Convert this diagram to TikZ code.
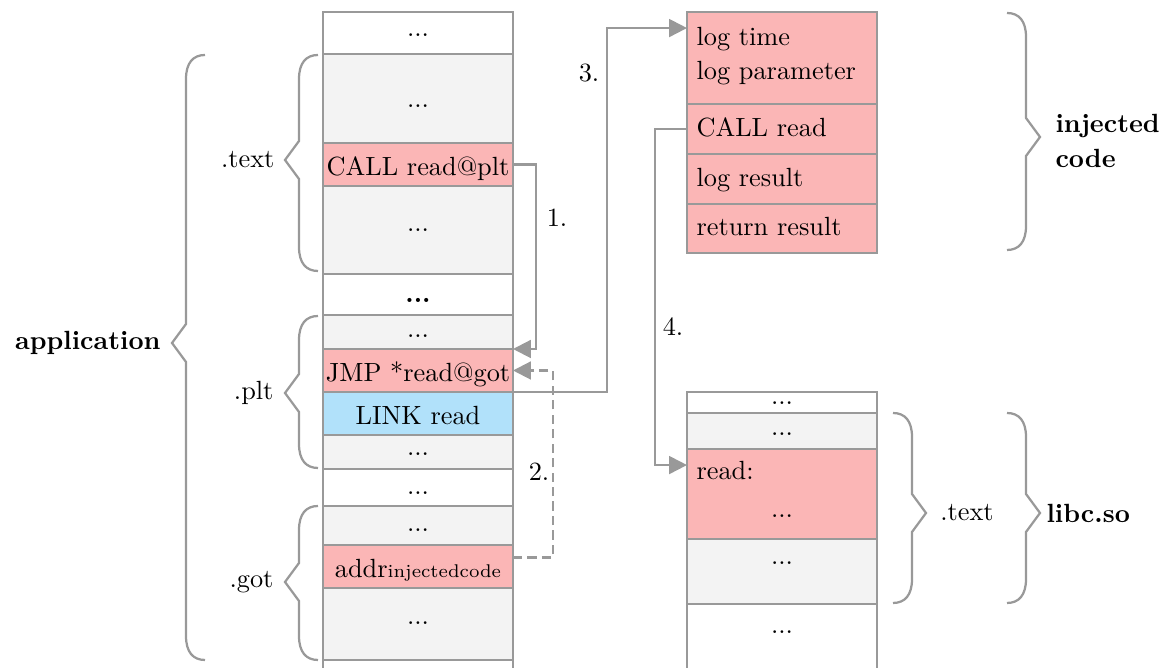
\documentclass[tikz,border=0pt]{standalone}
\usetikzlibrary{arrows.meta,calc}
\definecolor{linegray}{RGB}{153,153,153}
\definecolor{cellpink}{RGB}{251,182,182}
\definecolor{cellgray}{RGB}{243,243,243}
\definecolor{cellblue}{RGB}{177,225,250}
% memory cell: name, x1, y1, x2, y2, style, text
\newcommand\memcell[7]{\node[cellbox,#6,minimum width={(#4-#2)*0.38pt},minimum height={(#5-#3)*0.38pt}] (#1) at ({(#2+#4)/2},{(#3+#5)/2}) {#7};}
% curly brace opening to the right (tip on the left): x of the ends, top y, bottom y, tip y
\newcommand\leftbrc[4]{\draw[brc] (#1,#2) .. controls (#1-12,#2) and (#1-19,#2+8) .. (#1-19,#2+24) -- (#1-19,#4-19) -- (#1-33,#4) -- (#1-19,#4+19) -- (#1-19,#3-24) .. controls (#1-19,#3-8) and (#1-12,#3) .. (#1,#3);}
% curly brace opening to the left (tip on the right)
\newcommand\rightbrc[4]{\draw[brc] (#1,#2) .. controls (#1+12,#2) and (#1+19,#2+8) .. (#1+19,#2+24) -- (#1+19,#4-19) -- (#1+33,#4) -- (#1+19,#4+19) -- (#1+19,#3-24) .. controls (#1+19,#3-8) and (#1+12,#3) .. (#1,#3);}
\begin{document}
\begin{tikzpicture}[x=0.38pt,y=-0.38pt,
  cellbox/.style={draw=linegray,line width=0.75pt,inner sep=0pt,outer sep=0pt},
  plainc/.style={fill=white},
  grayc/.style={fill=cellgray},
  pinkc/.style={fill=cellpink},
  bluec/.style={fill=cellblue},
  txt/.style={text height=8.5pt,text depth=0pt},
  flow/.style={draw=linegray,line width=0.8pt,-{Triangle[length=6.8pt,width=6.8pt]}},
  dashflow/.style={flow,dash pattern=on 3.5pt off 2pt},
  brc/.style={draw=linegray,line width=0.85pt},
  lbl/.style={inner sep=0pt}]
\clip (0,0) rectangle (1173,668);

% ---- application memory column ----
\memcell{c0}{323}{12}{513}{54}{plainc}{}
\memcell{c1}{323}{54}{513}{143}{grayc}{}
\memcell{c2}{323}{143}{513}{186}{pinkc,txt}{CALL read@plt}
\memcell{c3}{323}{186}{513}{274}{grayc}{}
\memcell{c4}{323}{274}{513}{315}{plainc}{}
\memcell{c5}{323}{315}{513}{349}{grayc}{}
\memcell{c6}{323}{349}{513}{392}{pinkc,txt}{JMP *read@got}
\memcell{c7}{323}{392}{513}{435}{bluec,txt}{LINK read}
\memcell{c8}{323}{435}{513}{469}{grayc}{}
\memcell{c9}{323}{469}{513}{506}{plainc}{}
\memcell{c10}{323}{506}{513}{545}{grayc}{}
\memcell{c11}{323}{545}{513}{588}{pinkc,txt}{addr{\scriptsize injectedcode}}
\memcell{c12}{323}{588}{513}{660}{grayc}{}
\memcell{c13}{323}{660}{513}{700}{plainc}{}

\node[lbl] (d0) at (418,35) {...};
\node[lbl] (d1) at (418,106) {...};
\node[lbl] (d3) at (418,230) {...};
\node[lbl] (d4) at (418,300) {\bfseries ...};
\node[lbl] (d5) at (418,336) {...};
\node[lbl] (d8) at (418,454) {...};
\node[lbl] (d9) at (418,493) {...};
\node[lbl] (d10) at (418,530) {...};
\node[lbl] (d12) at (418,623) {...};

% ---- injected code block ----
\memcell{i1}{687}{12}{877}{104}{pinkc}{}
\memcell{i2}{687}{104}{877}{154}{pinkc}{}
\memcell{i3}{687}{154}{877}{204}{pinkc}{}
\memcell{i4}{687}{204}{877}{253}{pinkc}{}
\node[lbl,anchor=base west] (t1a) at (696,45.5) {log time};
\node[lbl,anchor=base west] (t1b) at (696,80) {log parameter};
\node[lbl,anchor=base west] (t2) at (696,137) {CALL read};
\node[lbl,anchor=base west] (t3) at (696,187) {log result};
\node[lbl,anchor=base west] (t4) at (696,236) {return result};

% ---- libc column ----
\memcell{b0}{687}{392}{877}{413}{plainc}{}
\memcell{b1}{687}{413}{877}{449}{grayc}{}
\memcell{b2}{687}{449}{877}{539}{pinkc}{}
\memcell{b3}{687}{539}{877}{604}{grayc}{}
\memcell{b4}{687}{604}{877}{700}{plainc}{}
\node[lbl,anchor=base west] (rdl) at (696,480) {read:};
\node[lbl] (e0) at (782,403) {...};
\node[lbl] (e1) at (782,434) {...};
\node[lbl] (e2) at (782,516) {...};
\node[lbl] (e3) at (782,563) {...};
\node[lbl] (e4) at (782,632) {...};

% ---- control flow ----
\draw[flow] (c2.east) -- ++(23,0) |- (c6.north east);
\node[lbl] (n1) at (557,218) {1.};
\draw[dashflow] ([yshift=3.4pt]c11.east) -- ++(40,0) |- (c6.east);
\node[lbl] (n2) at (539,472) {2.};
\draw[flow] (c6.south east) -- ++(94,0) |- ([yshift=-6.1pt]i1.north west);
\node[lbl] (n3) at (589,73) {3.};
\draw[flow] (i2.west) -- ++(-32,0) |- ([yshift=-6.1pt]b2.north west);
\node[lbl] (n4) at (673,327) {4.};

% ---- braces ----
\leftbrc{318}{55}{271}{160}
\node[lbl,anchor=east] (s1) at (275,160) {.text};
\leftbrc{318}{316}{468}{393}
\node[lbl,anchor=east] (s2) at (274,393) {.plt};
\leftbrc{318}{506}{660}{582}
\node[lbl,anchor=east] (s3) at (274,582) {.got};
\leftbrc{205}{55}{660}{343}
\node[lbl,anchor=east,font=\bfseries] (app) at (161,343) {application};

\rightbrc{1007}{13}{250}{137}
\node[lbl,anchor=west,align=left,font=\bfseries] (inj) at (1055,141) {injected\\[1pt]code};
\rightbrc{893}{413}{603}{513}
\node[lbl] (s4) at (967,513) {.text};
\rightbrc{1007}{413}{603}{513}
\node[lbl,anchor=west,font=\bfseries] (libc) at (1046,513) {libc.so};
\end{tikzpicture}
\end{document}
